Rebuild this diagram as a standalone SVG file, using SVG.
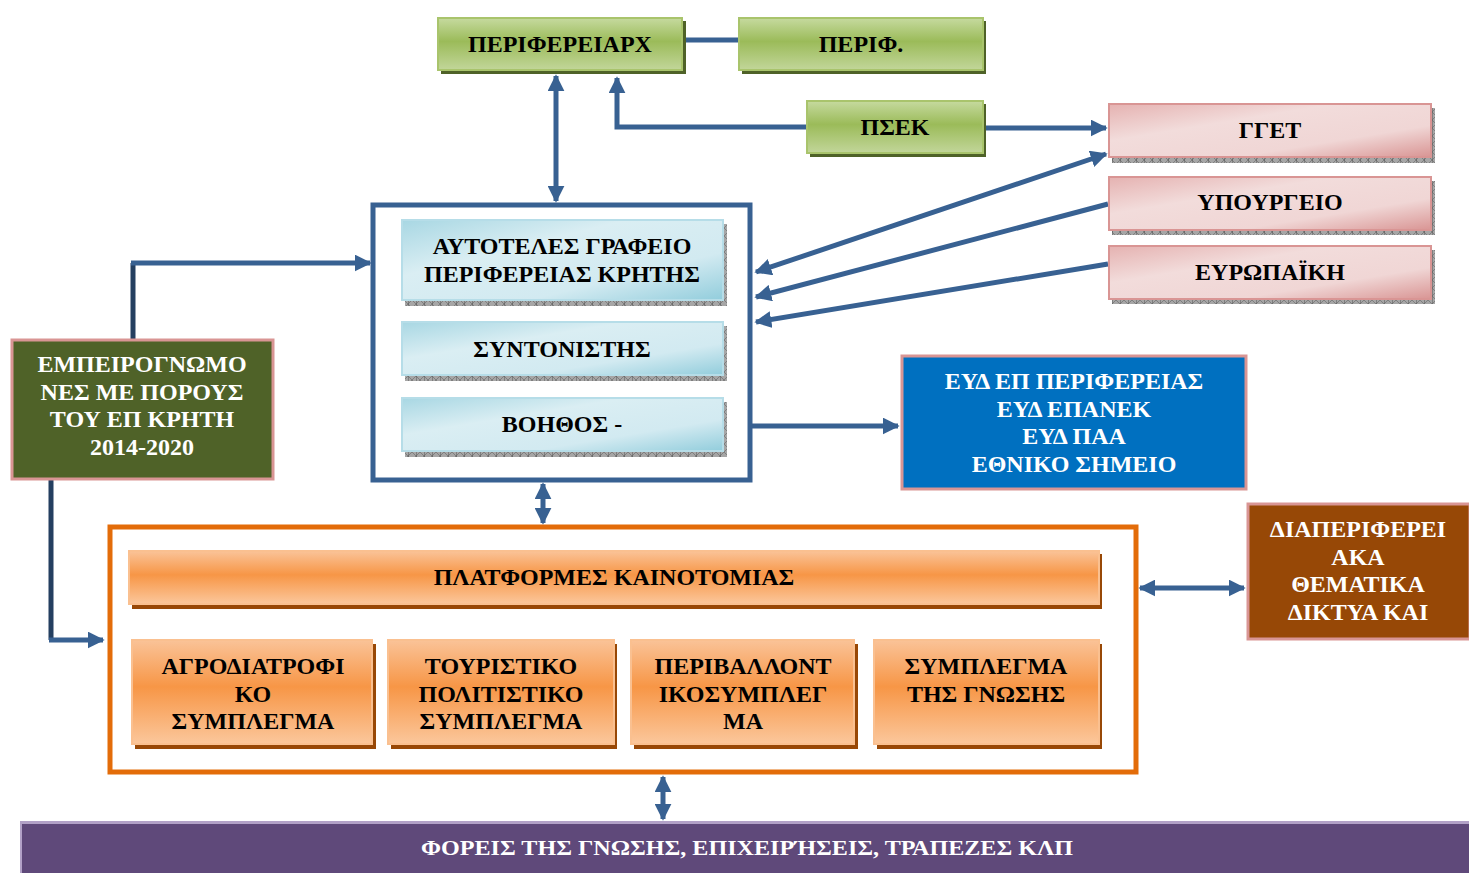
<svg xmlns="http://www.w3.org/2000/svg" width="1469" height="873" viewBox="0 0 1469 873">
<style>
text{font-family:"Liberation Serif","Times New Roman",serif;font-weight:bold;font-size:24px;text-anchor:middle}
.dk{fill:#000}
.wt{fill:#fff}
.con{fill:none;stroke:#386192;stroke-width:5}
.navy{fill:none;stroke:#243f60;stroke-width:5}
</style>
<defs>
<linearGradient id="gGreen" x1="0" y1="0" x2="0" y2="1">
<stop offset="0" stop-color="#c6da9f"/><stop offset="0.45" stop-color="#9bbb59"/><stop offset="1" stop-color="#c2d69a"/>
</linearGradient>
<linearGradient id="gPink" x1="0" y1="0" x2="1" y2="1">
<stop offset="0" stop-color="#e5b2b1"/><stop offset="0.35" stop-color="#f2dcdb"/><stop offset="0.7" stop-color="#f0d6d5"/><stop offset="1" stop-color="#d99594"/>
</linearGradient>
<linearGradient id="gBlue" x1="0" y1="0" x2="1" y2="1">
<stop offset="0" stop-color="#a8d7e3"/><stop offset="0.35" stop-color="#daeef3"/><stop offset="0.7" stop-color="#d2eaf1"/><stop offset="1" stop-color="#92cddc"/>
</linearGradient>
<linearGradient id="gOrange" x1="0" y1="0" x2="0" y2="1">
<stop offset="0" stop-color="#fac398"/><stop offset="0.45" stop-color="#f79646"/><stop offset="1" stop-color="#fbc79c"/>
</linearGradient>
<pattern id="hatch" width="8" height="8" patternUnits="userSpaceOnUse">
<rect width="8" height="8" fill="#a6a6a6"/><path d="M0 0L8 8M8 0L0 8" stroke="#7f7f7f" stroke-width="1"/><path d="M0 0V8" stroke="#595959" stroke-width="1"/>
</pattern>
<marker id="ah" viewBox="0 0 10 10" refX="9" refY="5" markerWidth="17" markerHeight="17" markerUnits="userSpaceOnUse" orient="auto-start-reverse">
<path d="M0 0L10 5L0 10Z" fill="#386192"/>
</marker>
</defs>

<g id="connectors">
<path class="con" d="M682 40H738"/>
<path class="con" d="M806 127H617V78" marker-end="url(#ah)"/>
<path class="con" d="M984 128H1106" marker-end="url(#ah)"/>
<path class="con" d="M556 76V201" marker-start="url(#ah)" marker-end="url(#ah)"/>
<path class="con" d="M1106 154L756 272" marker-start="url(#ah)" marker-end="url(#ah)"/>
<path class="con" d="M1108 204L756 297" marker-end="url(#ah)"/>
<path class="con" d="M1108 264L756 322" marker-end="url(#ah)"/>
<path class="con" d="M751 426H898" marker-end="url(#ah)"/>
<path class="navy" d="M133 339V263"/>
<path class="con" d="M131 263H370" marker-end="url(#ah)"/>
<path class="navy" d="M51 480V640"/>
<path class="con" d="M49 640H103" marker-end="url(#ah)"/>
<path class="con" d="M543 484V523" marker-start="url(#ah)" marker-end="url(#ah)"/>
<path class="con" d="M1140 588H1244" marker-start="url(#ah)" marker-end="url(#ah)"/>
<path class="con" d="M663 777V819" marker-start="url(#ah)" marker-end="url(#ah)"/>
</g>

<g id="n-perifereiarx">
<rect x="441" y="21" width="245" height="53" fill="#4f6228"/>
<rect x="438" y="18" width="244" height="52" fill="url(#gGreen)" stroke="#a9c46c" stroke-width="2"/>
<text x="560" y="52" class="dk">ΠΕΡΙΦΕΡΕΙΑΡΧ</text>
</g>
<g id="n-perif">
<rect x="742" y="21" width="244" height="53" fill="#4f6228"/>
<rect x="739" y="18" width="244" height="52" fill="url(#gGreen)" stroke="#a9c46c" stroke-width="2"/>
<text x="861" y="52" class="dk">ΠΕΡΙΦ.</text>
</g>
<g id="n-psek">
<rect x="810" y="104" width="176" height="53" fill="#4f6228"/>
<rect x="807" y="101" width="176" height="52" fill="url(#gGreen)" stroke="#a9c46c" stroke-width="2"/>
<text x="895" y="135" class="dk">ΠΣΕΚ</text>
</g>

<g id="n-gget">
<rect x="1112" y="108" width="323" height="55" fill="url(#hatch)"/>
<rect x="1109" y="104" width="322" height="53" fill="url(#gPink)" stroke="#d99594" stroke-width="2"/>
<text x="1270" y="138" class="dk">ΓΓΕΤ</text>
</g>
<g id="n-ypourgeio">
<rect x="1112" y="181" width="323" height="54" fill="url(#hatch)"/>
<rect x="1109" y="177" width="322" height="53" fill="url(#gPink)" stroke="#d99594" stroke-width="2"/>
<text x="1270" y="210" class="dk">ΥΠΟΥΡΓΕΙΟ</text>
</g>
<g id="n-europaiki">
<rect x="1112" y="250" width="323" height="54" fill="url(#hatch)"/>
<rect x="1109" y="246" width="322" height="53" fill="url(#gPink)" stroke="#d99594" stroke-width="2"/>
<text x="1270" y="280" class="dk">ΕΥΡΩΠΑΪΚΗ</text>
</g>

<g id="n-container-blue">
<rect x="373" y="205" width="377" height="275" fill="#fff" stroke="#386192" stroke-width="5"/>
</g>
<g id="n-autoteles">
<rect x="405" y="224" width="322" height="82" fill="url(#hatch)"/>
<rect x="402" y="220" width="321" height="80" fill="url(#gBlue)" stroke="#b6dde8" stroke-width="2"/>
<text x="562" y="254" class="dk">ΑΥΤΟΤΕΛΕΣ ΓΡΑΦΕΙΟ</text>
<text x="562" y="282" class="dk">ΠΕΡΙΦΕΡΕΙΑΣ ΚΡΗΤΗΣ</text>
</g>
<g id="n-syntonistis">
<rect x="405" y="326" width="322" height="55" fill="url(#hatch)"/>
<rect x="402" y="322" width="321" height="53" fill="url(#gBlue)" stroke="#b6dde8" stroke-width="2"/>
<text x="562" y="357" class="dk">ΣΥΝΤΟΝΙΣΤΗΣ</text>
</g>
<g id="n-voithos">
<rect x="405" y="402" width="322" height="55" fill="url(#hatch)"/>
<rect x="402" y="398" width="321" height="53" fill="url(#gBlue)" stroke="#b6dde8" stroke-width="2"/>
<text x="562" y="432" class="dk">ΒΟΗΘΟΣ -</text>
</g>

<g id="n-eyd">
<rect x="902" y="356" width="344" height="133" fill="#0070c0" stroke="#d99594" stroke-width="3"/>
<text x="1074" y="389" class="wt">ΕΥΔ ΕΠ ΠΕΡΙΦΕΡΕΙΑΣ</text>
<text x="1074" y="417" class="wt">ΕΥΔ ΕΠΑΝΕΚ</text>
<text x="1074" y="444" class="wt">ΕΥΔ ΠΑΑ</text>
<text x="1074" y="472" class="wt">ΕΘΝΙΚΟ ΣΗΜΕΙΟ</text>
</g>

<g id="n-experts">
<rect x="12" y="340" width="261" height="139" fill="#4f6228" stroke="#d99594" stroke-width="3"/>
<text x="142" y="372" class="wt">ΕΜΠΕΙΡΟΓΝΩΜΟ</text>
<text x="142" y="400" class="wt">ΝΕΣ ΜΕ ΠΟΡΟΥΣ</text>
<text x="142" y="427" class="wt">ΤΟΥ ΕΠ ΚΡΗΤΗ</text>
<text x="142" y="455" class="wt">2014-2020</text>
</g>

<g id="n-container-orange">
<rect x="110" y="527" width="1026" height="245" fill="#fff" stroke="#e36c09" stroke-width="5"/>
</g>
<g id="n-platformes">
<rect x="132" y="554" width="970" height="55" fill="#984806"/>
<rect x="129" y="551" width="970" height="53" fill="url(#gOrange)" stroke="#fac090" stroke-width="2"/>
<text x="614" y="585" class="dk">ΠΛΑΤΦΟΡΜΕΣ ΚΑΙΝΟΤΟΜΙΑΣ</text>
</g>
<g id="n-agro">
<rect x="135" y="644" width="241" height="105" fill="#984806"/>
<rect x="132" y="640" width="240" height="104" fill="url(#gOrange)" stroke="#fac090" stroke-width="2"/>
<text x="253" y="674" class="dk">ΑΓΡΟΔΙΑΤΡΟΦΙ</text>
<text x="253" y="702" class="dk">ΚΟ</text>
<text x="253" y="729" class="dk">ΣΥΜΠΛΕΓΜΑ</text>
</g>
<g id="n-tour">
<rect x="391" y="644" width="226" height="105" fill="#984806"/>
<rect x="388" y="640" width="226" height="104" fill="url(#gOrange)" stroke="#fac090" stroke-width="2"/>
<text x="501" y="674" class="dk">ΤΟΥΡΙΣΤΙΚΟ</text>
<text x="501" y="702" class="dk">ΠΟΛΙΤΙΣΤΙΚΟ</text>
<text x="501" y="729" class="dk">ΣΥΜΠΛΕΓΜΑ</text>
</g>
<g id="n-periv">
<rect x="634" y="644" width="224" height="105" fill="#984806"/>
<rect x="631" y="640" width="223" height="104" fill="url(#gOrange)" stroke="#fac090" stroke-width="2"/>
<text x="743" y="674" class="dk">ΠΕΡΙΒΑΛΛΟΝΤ</text>
<text x="743" y="702" class="dk">ΙΚΟΣΥΜΠΛΕΓ</text>
<text x="743" y="729" class="dk">ΜΑ</text>
</g>
<g id="n-gnosi">
<rect x="877" y="644" width="225" height="105" fill="#984806"/>
<rect x="874" y="640" width="225" height="104" fill="url(#gOrange)" stroke="#fac090" stroke-width="2"/>
<text x="986" y="674" class="dk">ΣΥΜΠΛΕΓΜΑ</text>
<text x="986" y="702" class="dk">ΤΗΣ ΓΝΩΣΗΣ</text>
</g>

<g id="n-diaperif">
<rect x="1248" y="504" width="222" height="135" fill="#974806" stroke="#d99594" stroke-width="3"/>
<text x="1358" y="537" class="wt">ΔΙΑΠΕΡΙΦΕΡΕΙ</text>
<text x="1358" y="565" class="wt">ΑΚΑ</text>
<text x="1358" y="592" class="wt">ΘΕΜΑΤΙΚΑ</text>
<text x="1358" y="620" class="wt">ΔΙΚΤΥΑ ΚΑΙ</text>
</g>

<g id="n-foreis">
<rect x="20" y="821" width="1449" height="52" fill="#5f497a"/>
<rect x="20" y="821" width="1449" height="3" fill="#b2a1c7"/>
<rect x="20" y="821" width="2" height="52" fill="#b2a1c7"/>
<text x="747" y="855" class="wt" style="font-size:22px" textLength="652" lengthAdjust="spacingAndGlyphs">ΦΟΡΕΙΣ ΤΗΣ ΓΝΩΣΗΣ, ΕΠΙΧΕΙΡΉΣΕΙΣ, ΤΡΑΠΕΖΕΣ ΚΛΠ</text>
</g>
</svg>
